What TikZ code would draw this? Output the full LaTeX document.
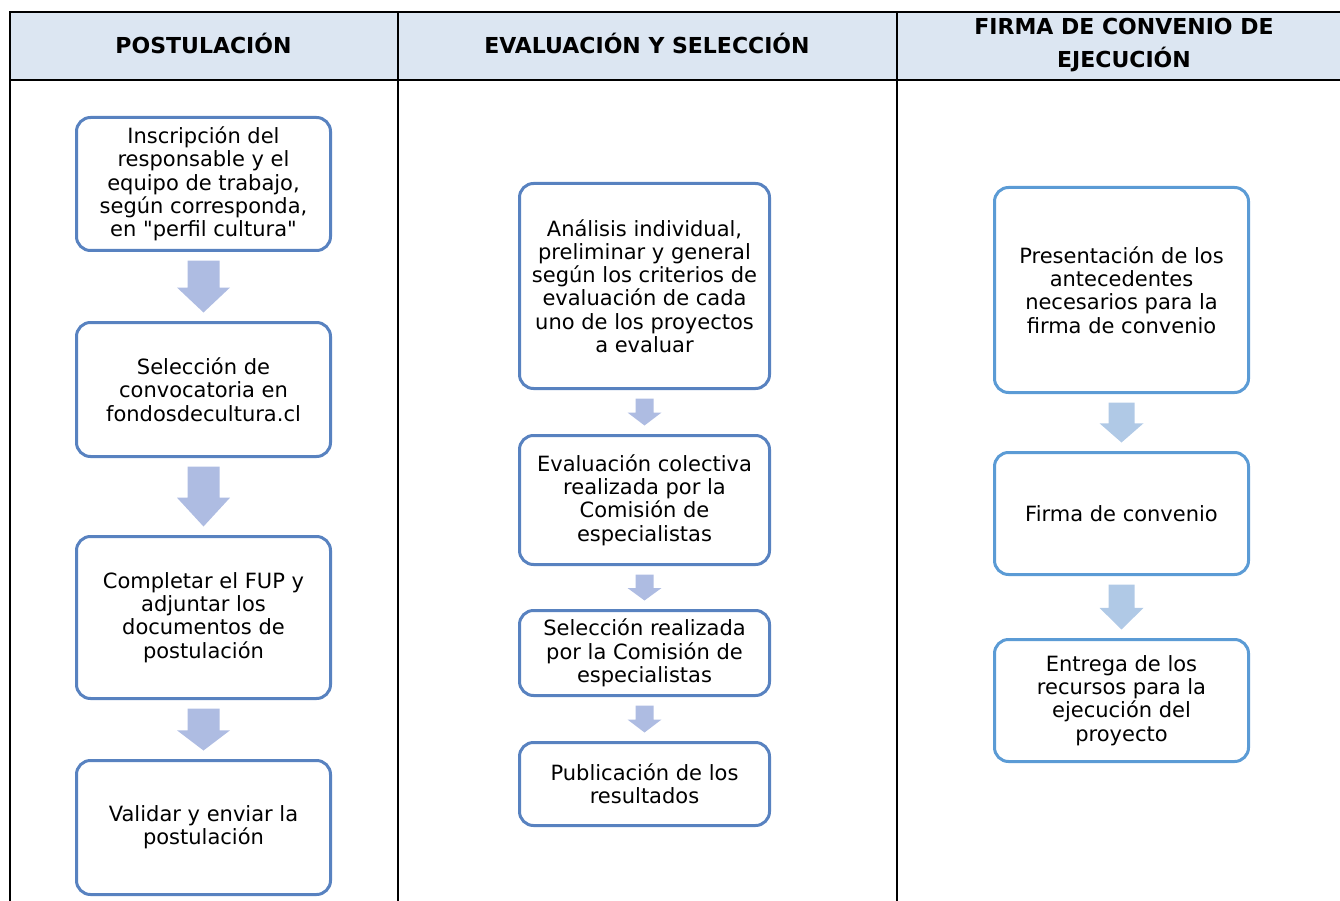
\documentclass[tikz,border=0pt]{standalone}
\usepackage{fontspec}
\setmainfont{DejaVu Sans}[Ligatures=TeXOff]
\usetikzlibrary{calc}
\definecolor{hdr}{HTML}{DCE6F2}
\definecolor{bordA}{HTML}{5882C0}
\definecolor{bordB}{HTML}{5B9BD5}
\definecolor{arrA}{HTML}{AEBCE2}
\definecolor{arrB}{HTML}{B0C9E6}
\tikzset{
  stepbox/.style={draw=bordA, line width=3pt, rounded corners=14pt, fill=white,
    align=center, inner sep=0pt, font=\fontsize{21}{23.3}\selectfont},
  stepboxB/.style={stepbox, draw=bordB},
  hdrtext/.style={font=\bfseries\fontsize{22}{33}\selectfont, align=center, inner sep=0pt},
  tableline/.style={line width=2pt, black},
}
% block arrow: from node, to node, shaft half width, head half width, colour
\newcommand\blockarrow[5]{%
  \coordinate (ba-s) at ($(#1.south)+(0,8.5)$);
  \coordinate (ba-t) at ($(#2.north)-(0,8.5)$);
  \coordinate (ba-h) at ($(ba-s)!0.52!(ba-t)$);
  \fill[#5] ($(ba-s)+(-#3,0)$) -- ($(ba-s)+(#3,0)$) -- ($(ba-h)+(#3,0)$) -- ($(ba-h)+(#4,0)$)
    -- (ba-t) -- ($(ba-h)+(-#4,0)$) -- ($(ba-h)+(-#3,0)$) -- cycle;
}
\begin{document}
\begin{tikzpicture}[x=1pt,y=-1pt]
\useasboundingbox (0,0) rectangle (1340,901);
% table
\fill[hdr] (10,12) rectangle (1341,80);
\draw[tableline] (10,901) -- (10,12) -- (1341,12);
\draw[tableline] (10,80) -- (1341,80);
\draw[tableline] (398,12) -- (398,901);
\draw[tableline] (897,12) -- (897,901);
\node[hdrtext] (h1) at (203.5,43.5) {POSTULACIÓN};
\node[hdrtext] (h2) at (647,43.5) {EVALUACIÓN Y SELECCIÓN};
\node[hdrtext] (h3) at (1124,45) {FIRMA DE CONVENIO DE\\EJECUCIÓN};
% column 1
\node[stepbox, minimum width=254, minimum height=133] (a1) at (203.5,184)
  {Inscripción del\\responsable y el\\equipo de trabajo,\\según corresponda,\\en "perfil cultura"};
\node[stepbox, minimum width=254, minimum height=134] (a2) at (203.5,389.5)
  {Selección de\\convocatoria en\\fondosdecultura.cl};
\node[stepbox, minimum width=254, minimum height=162] (a3) at (203.5,617.5)
  {Completar el FUP y\\adjuntar los\\documentos de\\postulación};
\node[stepbox, minimum width=254, minimum height=134] (a4) at (203.5,827.5)
  {Validar y enviar la\\postulación};
\blockarrow{a1}{a2}{16}{26.5}{arrA}
\blockarrow{a2}{a3}{16}{26.5}{arrA}
\blockarrow{a3}{a4}{16}{26.5}{arrA}
% column 2
\node[stepbox, minimum width=250, minimum height=205] (b1) at (644.5,286)
  {Análisis individual,\\preliminar y general\\según los criterios de\\evaluación de cada\\uno de los proyectos\\a evaluar};
\node[stepbox, minimum width=250, minimum height=129] (b2) at (644.5,500)
  {Evaluación colectiva\\realizada por la\\Comisión de\\especialistas};
\node[stepbox, minimum width=250, minimum height=85] (b3) at (644.5,653)
  {Selección realizada\\por la Comisión de\\especialistas};
\node[stepbox, minimum width=250, minimum height=83] (b4) at (644.5,784)
  {Publicación de los\\resultados};
\blockarrow{b1}{b2}{9}{17}{arrA}
\blockarrow{b2}{b3}{9}{17}{arrA}
\blockarrow{b3}{b4}{9}{17}{arrA}
% column 3
\node[stepboxB, minimum width=254, minimum height=205] (c1) at (1121.5,290)
  {Presentación de los\\antecedentes\\necesarios para la\\firma de convenio};
\node[stepboxB, minimum width=254, minimum height=122] (c2) at (1121.5,513.5)
  {Firma de convenio};
\node[stepboxB, minimum width=254, minimum height=122] (c3) at (1121.5,700.5)
  {Entrega de los\\recursos para la\\ejecución del\\proyecto};
\blockarrow{c1}{c2}{13}{22}{arrB}
\blockarrow{c2}{c3}{13}{22}{arrB}
\end{tikzpicture}
\end{document}
